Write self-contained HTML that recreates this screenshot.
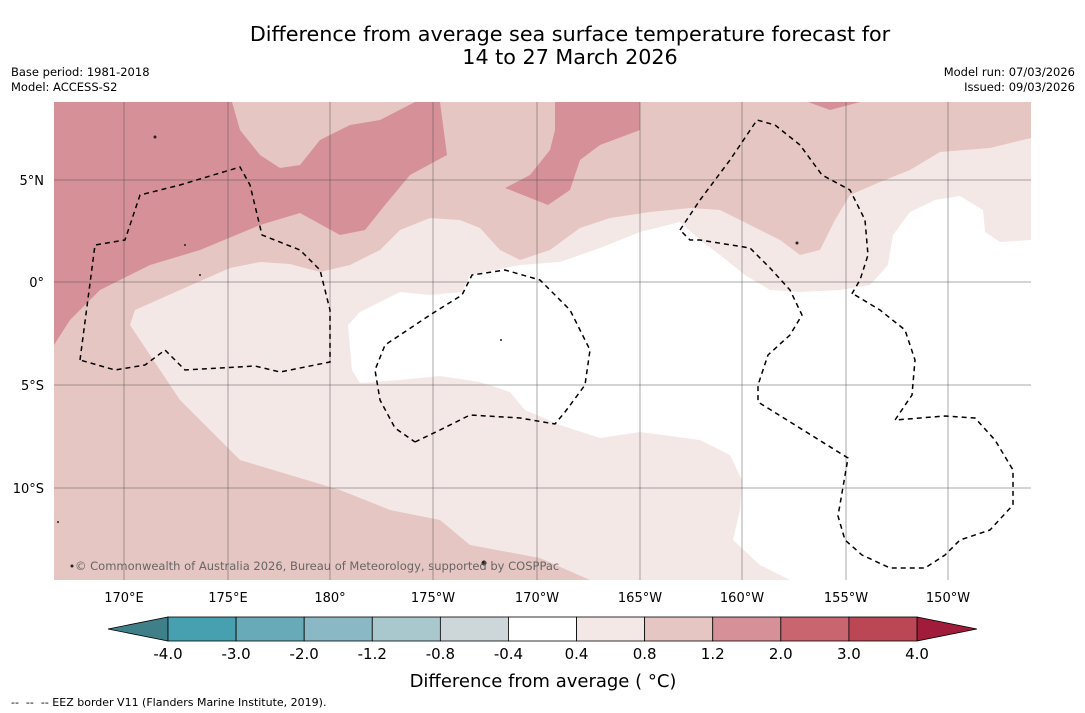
<!DOCTYPE html>
<html><head><meta charset="utf-8"><style>
body{margin:0;background:#fff;width:1085px;height:713px;overflow:hidden;font-family:"DejaVu Sans",sans-serif}
svg{position:absolute;left:0;top:0}
</style></head><body>
<svg width="1085" height="713" font-family="DejaVu Sans, sans-serif">
<text x="570" y="41" text-anchor="middle" font-size="20.7" fill="#000">Difference from average sea surface temperature forecast for</text>
<text x="570" y="64" text-anchor="middle" font-size="20.7" fill="#000">14 to 27 March 2026</text>
<text x="11" y="76" font-size="11.5">Base period: 1981-2018</text>
<text x="11" y="91" font-size="11.5">Model: ACCESS-S2</text>
<text x="1075" y="76" font-size="11.5" text-anchor="end">Model run: 07/03/2026</text>
<text x="1075" y="91" font-size="11.5" text-anchor="end">Issued: 09/03/2026</text>

<g>
<clipPath id="mc"><rect x="54" y="102" width="977" height="478"/></clipPath>
<g clip-path="url(#mc)">
<rect x="54" y="102" width="977" height="478" fill="#f4e8e7"/>
<polygon fill="#e6c6c2" points="54,102 1031,102 1031,138 990,148 940,152 910,170 880,182 850,195 835,220 820,250 800,255 780,240 750,225 720,210 690,208 650,212 610,218 580,228 550,250 520,260 500,250 480,228 460,220 430,218 400,230 380,250 350,265 320,272 290,264 260,262 230,268 180,290 135,310 130,325 160,370 180,400 210,430 240,460 290,475 340,490 390,510 440,520 470,545 540,558 590,580 54,580"/>
<polygon fill="#fff" points="1031,240 1000,242 985,232 983,210 960,196 935,200 910,212 893,235 888,265 870,285 840,290 800,292 770,290 745,275 720,255 700,240 680,222 640,232 600,248 560,262 520,265 470,275 462,292 430,295 400,292 360,312 348,325 352,370 360,383 400,380 440,376 480,382 510,392 525,410 560,425 600,438 640,432 700,440 730,455 742,480 740,510 733,540 760,565 790,580 1031,580"/>
<polygon fill="#d69097" points="54,102 232,102 240,130 260,155 280,168 300,165 320,140 350,125 380,120 415,102 440,102 447,155 410,175 385,205 365,230 340,235 300,213 260,225 200,250 150,265 100,290 70,320 54,345"/>
<polygon fill="#d69097" points="555,102 640,102 640,130 600,145 580,160 570,190 548,205 505,188 530,175 550,150 555,130"/>
<polygon fill="#d69097" points="808,102 860,102 830,110"/>
<g stroke="#555" stroke-width="0.5">
<line x1="124" y1="102" x2="124" y2="580"/><line x1="228" y1="102" x2="228" y2="580"/><line x1="330" y1="102" x2="330" y2="580"/><line x1="433" y1="102" x2="433" y2="580"/><line x1="537" y1="102" x2="537" y2="580"/><line x1="640" y1="102" x2="640" y2="580"/><line x1="742" y1="102" x2="742" y2="580"/><line x1="846" y1="102" x2="846" y2="580"/><line x1="948" y1="102" x2="948" y2="580"/>
<line x1="54" y1="180" x2="1031" y2="180"/><line x1="54" y1="282" x2="1031" y2="282"/><line x1="54" y1="385" x2="1031" y2="385"/><line x1="54" y1="488" x2="1031" y2="488"/>
</g>
<g fill="none" stroke="#000" stroke-width="1.5" stroke-dasharray="5,4">
<polyline points="80,360 95,245 125,240 140,195 180,185 240,167 250,185 262,235 300,250 320,270 330,310 330,362 280,372 255,366 185,370 165,350 145,365 115,370 80,360"/>
<polyline points="415,442 440,430 470,415 520,418 555,424 565,412 585,385 590,350 570,310 540,280 505,270 472,275 462,295 430,315 385,345 375,370 380,400 395,428 415,442"/>
<polyline points="680,230 700,200 730,160 757,120 775,125 800,145 822,175 850,190 865,220 868,255 860,280 850,297"/>
<polyline points="855,295 880,310 905,330 915,360 912,395 895,420 920,418 945,416 975,418 995,440 1013,470 1013,505 990,530 960,540 945,555 925,568 890,568 862,555 845,540 838,516 848,458 758,402 758,385 768,355 790,335 802,315 790,290 770,268 750,248 700,240 690,240 680,230"/>
</g>
<g fill="#222">
<circle cx="155" cy="137" r="1.5"/><circle cx="185" cy="245" r="1"/><circle cx="200" cy="275" r="1"/><circle cx="501" cy="340" r="1"/><circle cx="484" cy="563" r="2.5"/><circle cx="797" cy="243" r="1.5"/><circle cx="72" cy="566" r="1.5"/><circle cx="58" cy="522" r="1"/>
</g>
<text x="75" y="570" font-size="11.5" fill="#666">© Commonwealth of Australia 2026, Bureau of Meteorology, supported by COSPPac</text>
</g>
</g>
<g font-size="13" fill="#000" text-anchor="middle">
<text x="124" y="602">170°E</text><text x="228" y="602">175°E</text><text x="330" y="602">180°</text><text x="433" y="602">175°W</text><text x="537" y="602">170°W</text><text x="640" y="602">165°W</text><text x="742" y="602">160°W</text><text x="846" y="602">155°W</text><text x="948" y="602">150°W</text>
</g>
<g font-size="13" fill="#000" text-anchor="end">
<text x="44" y="185">5°N</text><text x="44" y="287">0°</text><text x="44" y="390">5°S</text><text x="44" y="493">10°S</text>
</g>
<g id="cbar"></g>
<text x="543" y="687" font-size="18" text-anchor="middle">Difference from average ( °C)</text>
<text x="11" y="706" font-size="11" style="white-space:pre">--  --  -- EEZ border V11 (Flanders Marine Institute, 2019).</text>
</svg>
<script>
const levels=["-4.0","-3.0","-2.0","-1.2","-0.8","-0.4","0.4","0.8","1.2","2.0","3.0","4.0"];
const colors=["#46a0b0","#68aab8","#8ab8c4","#a9c8cd","#cdd6d8","#ffffff","#f4e8e7","#e6c6c2","#d69097","#c8656f","#bb4654"];
const g=document.getElementById('cbar');const ns="http://www.w3.org/2000/svg";
const x0=168,x1=917,y=617,h=24,w=(x1-x0)/colors.length;
function mk(t,a){const e=document.createElementNS(ns,t);for(const k in a)e.setAttribute(k,a[k]);g.appendChild(e);return e;}
let lt=mk('polygon',{points:`108,${y+h/2} ${x0},${y} ${x0},${y+h}`,fill:'#3f8088',stroke:'#000','stroke-width':0.8});


let rt=mk('polygon',{points:`977,${y+h/2} ${x1},${y} ${x1},${y+h}`,fill:'#a01c3a',stroke:'#000','stroke-width':0.8});


colors.forEach((c,i)=>{const r=mk('rect',{x:x0+i*w,y:y,width:w,height:h,fill:c,stroke:'#000','stroke-width':0.8});

});
levels.forEach((l,i)=>{const t=mk('text',{x:x0+i*w,y:659,'font-size':15,'text-anchor':'middle'});t.textContent=l;

});
</script>
</body></html>
